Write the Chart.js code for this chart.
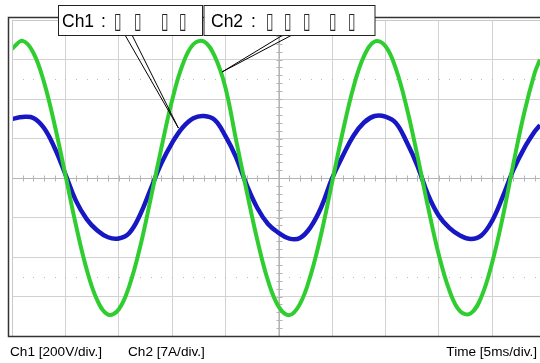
<!DOCTYPE html>
<html>
<head>
<meta charset="utf-8">
<script src="https://cdn.jsdelivr.net/npm/chart.js@4.4.0/dist/chart.umd.min.js"></script>
<style>
  html, body { margin: 0; padding: 0; background: #fff; }
  #wrap { position: relative; width: 540px; height: 363px; }
</style>
</head>
<body>
<div id="wrap"><canvas id="chart" width="540" height="363"></canvas></div>
<script>
// time axis, ms (5 ms per division)
const timeMs = [0, 1, 2, 3, 4, 5, 6, 7, 8, 9, 10, 11, 12, 13, 14, 15, 16, 17, 18, 19,
  20, 21, 22, 23, 24, 25, 26, 27, 28, 29, 30, 31, 32, 33, 34, 35, 36, 37, 38, 39,
  40, 41, 42, 43, 44, 45, 46, 47, 48, 49, 49.5];

// Ch1 (blue), volts, 200 V/div
const ch1Volts = [299, 309, 304, 253, 152, 20, -116, -208, -266, -300, -306, -278, -187, -56, 74, 177, 256, 303, 314, 294,
  213, 106, -35, -152, -233, -278, -307, -304, -248, -147, -3, 111, 213, 281, 314, 311, 278, 182, 63, -84,
  -190, -253, -291, -309, -291, -218, -96, 41, 149, 235, 268];

// Ch2 (green), amps, 7 A/div
const ch2Amps = [22.9, 24.3, 22.2, 17.0, 9.4, 0.6, -8.4, -16.2, -21.7, -24.2, -23.3, -19.1, -12.3, -3.7, 5.3, 13.7, 20.1, 23.7, 24.2, 21.6,
  16.1, 6.8, -2.3, -11.0, -18.2, -22.8, -24.3, -22.3, -17.2, -9.8, -0.85, 8.1, 16.0, 21.6, 24.2, 23.4, 19.3, 12.5, 4.0, -5.1,
  -13.5, -19.9, -23.6, -24.0, -21.1, -15.1, -7.0, 2.5, 11.4, 18.6, 21.0];

const footerLabels = ["Ch1 [200V/div.]", "Ch2 [7A/div.]", "Time [5ms/div.]"];
const calloutNames = ["Ch1", "Ch2"];
const calloutGlyphs = [["▯", "▯", "▯", "▯"], ["▯", "▯", "▯", "▯", "▯"]];
// where each callout points: [time ms, value]
const ch1Tip = [15.6, 253];
const ch2Tip = [19.7, 18.8];

const FONT = "'Liberation Sans', Arial, sans-serif";

const graticule = {
  id: "graticule",
  beforeDatasetsDraw(chart) {
    const { ctx, chartArea: a, scales: { x, y } } = chart;
    const cx = Math.round(x.getPixelForValue(25)) + 0.5;
    const cy = Math.round(y.getPixelForValue(0)) + 0.5;
    ctx.save();
    ctx.strokeStyle = "#b4b4b4";
    ctx.lineWidth = 1;
    ctx.beginPath();
    ctx.moveTo(a.left, cy); ctx.lineTo(a.right, cy);
    ctx.moveTo(cx, a.top); ctx.lineTo(cx, a.bottom);
    // minor ticks on centre axes
    for (let t = 0; t <= 50; t += 1) {
      const px = Math.round(x.getPixelForValue(t)) + 0.5;
      ctx.moveTo(px, cy - 3); ctx.lineTo(px, cy + 3);
    }
    for (let v = -800; v <= 800; v += 40) {
      const py = Math.round(y.getPixelForValue(v)) + 0.5;
      ctx.moveTo(cx - 3, py); ctx.lineTo(cx + 3, py);
    }
    ctx.stroke();
    // dotted lines at +-2.5 div
    ctx.fillStyle = "#b8b8b8";
    [500, -500].forEach(v => {
      const py = Math.round(y.getPixelForValue(v));
      for (let t = 1; t < 50; t += 1) {
        ctx.fillRect(Math.round(x.getPixelForValue(t)), py, 1, 1);
      }
    });
    ctx.restore();
  },
  afterDraw(chart) {
    const { ctx, scales: { x, y, yA } } = chart;
    ctx.save();
    // frame
    ctx.strokeStyle = "#c8c8c8";
    ctx.lineWidth = 1;
    ctx.beginPath();
    ctx.moveTo(12.5, 336); ctx.lineTo(12.5, 20.5); ctx.lineTo(540, 20.5);
    ctx.stroke();
    ctx.strokeStyle = "#333";
    ctx.lineWidth = 1.5;
    ctx.beginPath();
    ctx.moveTo(540, 17.5); ctx.lineTo(8.5, 17.5); ctx.lineTo(8.5, 336.5); ctx.lineTo(540, 336.5);
    ctx.stroke();

    // callout wedges
    const tips = [
      [x.getPixelForValue(ch1Tip[0]), y.getPixelForValue(ch1Tip[1]), 125, 132],
      [x.getPixelForValue(ch2Tip[0]), yA.getPixelForValue(ch2Tip[1]), 283, 292]
    ];
    ctx.strokeStyle = "#000";
    ctx.lineWidth = 1;
    tips.forEach(([tx, ty, b1, b2]) => {
      ctx.beginPath();
      ctx.moveTo(b1, 35); ctx.lineTo(tx, ty); ctx.lineTo(b2, 35);
      ctx.stroke();
    });

    // callout boxes
    const boxes = [
      { x: 58, w: 144, nameX: 62, colonX: 101, glyphX: [115, 135, 162, 180] },
      { x: 203.5, w: 171, nameX: 211, colonX: 251, glyphX: [267, 285, 304, 330, 349] }
    ];
    boxes.forEach((b, i) => {
      ctx.fillStyle = "#fff";
      ctx.fillRect(b.x + 0.5, 5.5, b.w, 30);
      ctx.strokeStyle = "#222";
      ctx.strokeRect(b.x + 0.5, 5.5, b.w, 30);
      ctx.fillStyle = "#000";
      ctx.textAlign = "left";
      ctx.textBaseline = "alphabetic";
      ctx.font = "17.5px " + FONT;
      ctx.fillText(calloutNames[i], b.nameX, 27);
      ctx.fillText(":", b.colonX, 27);
      ctx.font = "22px 'DejaVu Sans', sans-serif";
      ctx.fillStyle = "#222";
      calloutGlyphs[i].forEach((g, j) => {
        ctx.save();
        ctx.translate(b.glyphX[j] - 1, 27.5);
        ctx.scale(0.62, 1);
        ctx.fillText(g, 0, 0);
        ctx.restore();
      });
    });

    // footer
    ctx.font = "13.6px " + FONT;
    ctx.fillStyle = "#000";
    ctx.textAlign = "left";
    ctx.fillText(footerLabels[0], 10, 356);
    ctx.fillText(footerLabels[1], 128, 356);
    ctx.textAlign = "right";
    ctx.fillText(footerLabels[2], 537, 356);
    ctx.restore();
  }
};

const gridStyle = { color: "#d2d2d2", lineWidth: 1, drawTicks: false };

new Chart(document.getElementById("chart"), {
  type: "line",
  data: {
    datasets: [
      {
        label: "Ch2",
        data: timeMs.map((t, i) => ({ x: t, y: ch2Amps[i] })),
        yAxisID: "yA",
        borderColor: "#30cd30",
        borderWidth: 4,
        pointRadius: 0,
        tension: 0.4
      },
      {
        label: "Ch1",
        data: timeMs.map((t, i) => ({ x: t, y: ch1Volts[i] })),
        yAxisID: "y",
        borderColor: "#1717c4",
        borderWidth: 4.5,
        pointRadius: 0,
        tension: 0.4
      }
    ]
  },
  options: {
    responsive: false,
    animation: false,
    devicePixelRatio: 1,
    layout: { padding: { left: 12, top: 20, right: 0, bottom: 27 } },
    scales: {
      x: {
        type: "linear", min: 0, max: 49.5,
        ticks: { display: false, stepSize: 5, includeBounds: false },
        grid: gridStyle,
        border: { display: false },
        afterFit: s => { s.height = 0; }
      },
      y: {
        min: -800, max: 800,
        ticks: { display: false, stepSize: 200 },
        grid: gridStyle,
        border: { display: false },
        afterFit: s => { s.width = 0; }
      },
      yA: { min: -28, max: 28, display: false }
    },
    plugins: { legend: { display: false }, tooltip: { enabled: false } }
  },
  plugins: [graticule]
});
</script>
</body>
</html>
